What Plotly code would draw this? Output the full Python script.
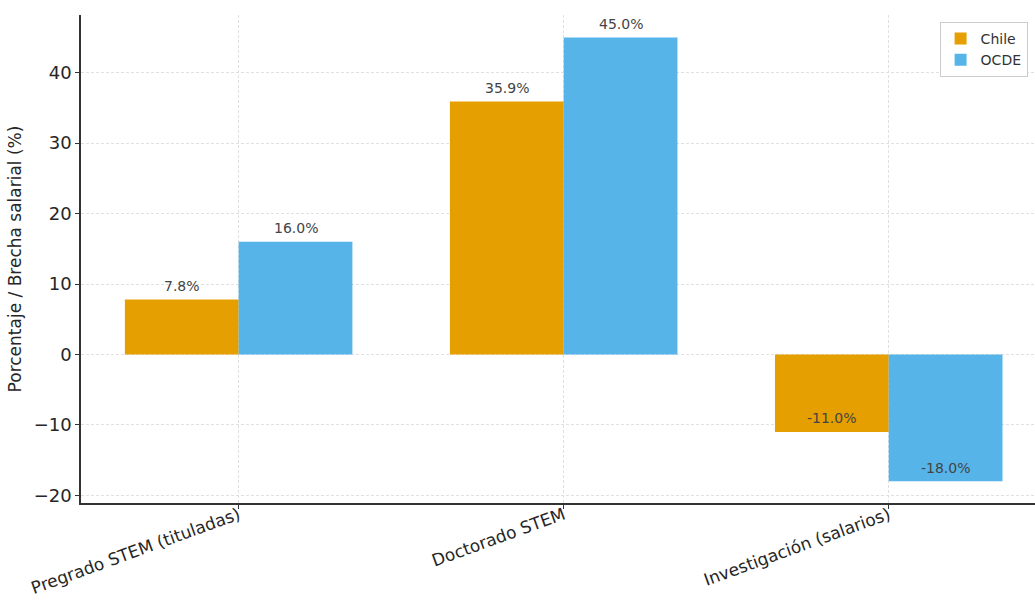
import plotly.graph_objects as go

categories = ["Pregrado STEM (tituladas)", "Doctorado STEM", "Investigación (salarios)"]
chile = [7.8, 35.9, -11.0]
ocde = [16.0, 45.0, -18.0]
series_names = ["Chile", "OCDE"]
colors = ["#E69F00", "#56B4E9"]
y_ticks = [-20, -10, 0, 10, 20, 30, 40]

FONT = "DejaVu Sans"
fig = go.Figure()
xs = list(range(len(categories)))
fig.add_trace(go.Bar(x=xs, y=chile, name=series_names[0], marker=dict(color=colors[0], line=dict(width=0)),
                     offset=-0.35, width=0.35))
fig.add_trace(go.Bar(x=xs, y=ocde, name=series_names[1], marker=dict(color=colors[1], line=dict(width=0)),
                     offset=0.0, width=0.35))

annotations = []
for vals, off in ((chile, -0.175), (ocde, 0.175)):
    for i, v in enumerate(vals):
        annotations.append(dict(x=i + off, y=v + 0.5, xref="x", yref="y", text=f"{v:.1f}%",
                                showarrow=False, yanchor="bottom", xanchor="center",
                                font=dict(family=FONT, size=14, color="#444444")))

fig.update_layout(
    width=1035, height=601,
    margin=dict(l=81, r=0, t=15, b=98),
    plot_bgcolor="white", paper_bgcolor="white",
    font=dict(family=FONT, size=18, color="#262626"),
    showlegend=True,
    legend=dict(x=0.9, y=0.986, xanchor="left", yanchor="top",
                bordercolor="#cccccc", borderwidth=1, bgcolor="white",
                font=dict(family=FONT, size=14, color="#333333"),
                tracegroupgap=0, itemwidth=30),
    annotations=annotations,
    bargap=0.3, bargroupgap=0,
)
fig.update_xaxes(
    range=[-0.485, 2.45], tickmode="array", tickvals=xs, ticktext=categories,
    tickangle=-20, showline=True, linecolor="#333333", linewidth=1.5,
    showgrid=True, gridcolor="#e0e0e0", griddash="3px,2px", gridwidth=1,
    ticks="outside", ticklen=4, tickcolor="#333333", zeroline=False,
    tickfont=dict(family=FONT, size=17, color="#262626"), automargin=False,
    ticklabelstandoff=-10,
)
fig.update_yaxes(
    range=[-21.1, 48.2], tickmode="array", tickvals=y_ticks,
    showline=True, linecolor="#333333", linewidth=1.5,
    showgrid=True, gridcolor="#e0e0e0", griddash="3px,2px", gridwidth=1,
    ticks="outside", ticklen=4, tickcolor="#333333", zeroline=False,
    tickfont=dict(family=FONT, size=18, color="#262626"),
    title=dict(text="Porcentaje / Brecha salarial (%)", standoff=8,
               font=dict(family=FONT, size=17, color="#262626")),
    automargin=False,
)
fig.write_html("out.html")
